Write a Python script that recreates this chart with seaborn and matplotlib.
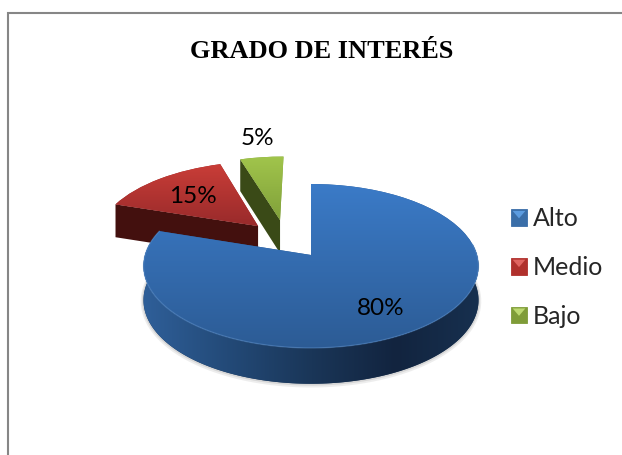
import matplotlib

matplotlib.use("Agg")
import numpy as np
import matplotlib.pyplot as plt
import seaborn as sns
from matplotlib.legend_handler import HandlerBase
from matplotlib.patches import Patch, Polygon, Rectangle
from matplotlib.transforms import Transform

# Chart data
categories = ["Alto", "Medio", "Bajo"]
values = [80, 15, 5]
percent_labels = ["80%", "15%", "5%"]
title = "GRADO DE INTERÉS"

# Exploded slices, in units of the pie radius
slice_offsets = [(0.0, 0.0), (-0.335, 0.378), (-0.198, 0.462)]
label_positions = [(381, 309), (193, 197), (257, 139)]

# Gradient stops for each slice
top_stops = [["#3b7bc8", "#2c5b94"], ["#cb3e38", "#96292a"], ["#a2c64c", "#80a03a"]]
legend_colors = [("#3a6ea8", "#5c9ce0"), ("#b0302c", "#e06460"), ("#7f9c38", "#bcd870")]
blue_wall_stops = ["#2f5f99", "#234a78", "#1a3658", "#12243f", "#17304f"]
red_wall = "#43100e"
green_wall = "#3a4a17"

# Perspective of the pie plane, fitted to the picture
CX, CY = 311, 256
RX, RY, TILT, DEPTH = 166, 80.5, 0.134, 34


def project(x, y, z=0.0):
    s = 1 + TILT * y
    return CX + RX * x / s, CY - RY * y / s + z * DEPTH / (1 + 0.05 * y)


class PiePlane(Transform):
    input_dims = 2
    output_dims = 2

    def transform_non_affine(self, values):
        xs, ys = project(values[:, 0], values[:, 1])
        return np.column_stack([xs, ys])


def gradient(ax, stops, extent, clip, horizontal=False, zorder=2):
    cmap = sns.blend_palette(stops, n_colors=256, as_cmap=True)
    ramp = np.linspace(0, 1, 256)
    ramp = ramp[None, :] if horizontal else ramp[:, None]
    im = ax.imshow(ramp, cmap=cmap, extent=extent, aspect="auto", zorder=zorder)
    im.set_clip_path(clip)
    return im


def arc(wedge, t1, t2, z=0.0, n=160):
    cx, cy = wedge.center
    t = np.radians(np.linspace(t1, t2, n))
    return np.column_stack(project(cx + np.cos(t), cy + np.sin(t), z))


class BevelHandler(HandlerBase):
    def __init__(self, base, light):
        super().__init__()
        self.base, self.light = base, light

    def create_artists(self, legend, orig, x0, y0, w, h, fontsize, trans):
        square = Rectangle((x0, y0), w, h, fc=self.base, ec=self.base, lw=0.6, transform=trans)
        tip = Polygon(
            [(x0 + 0.1 * w, y0 + 0.9 * h), (x0 + 0.9 * w, y0 + 0.9 * h), (x0 + 0.5 * w, y0 + 0.45 * h)],
            fc=self.light, ec="none", transform=trans,
        )
        return [square, tip]


sns.set_theme(style="white")
plt.rcParams["font.family"] = ["Lato", "DejaVu Sans"]

fig, ax = plt.subplots(figsize=(6.22, 4.56), dpi=100)
ax.set_position([0, 0, 1, 1])

wedges, _ = ax.pie(values, startangle=90, counterclock=False, colors=[s[1] for s in top_stops])
plane = PiePlane()
for wedge, off in zip(wedges, slice_offsets):
    wedge.set_center(off)
    wedge.set_transform(plane + ax.transData)
    wedge.set_linewidth(0)

blue, red, green = wedges

ax.set_aspect("auto")

# Green slice: radial wall, then top
gx, gy = green.center
t = np.radians(green.theta2)
green_side = [
    project(gx, gy),
    project(gx + np.cos(t), gy + np.sin(t)),
    project(gx + np.cos(t), gy + np.sin(t), 1),
    project(gx, gy, 1),
]
ax.add_patch(Polygon(green_side, fc=green_wall, ec="none", zorder=1.1))
green.set_zorder(1.2)
gradient(ax, top_stops[2], (233, 287, 222, 155), green, zorder=1.3)

# Red slice: radial wall, then top
rx, ry = red.center
t = np.radians(red.theta2)
red_side = [
    project(rx, ry),
    project(rx + np.cos(t), ry + np.sin(t)),
    project(rx + np.cos(t), ry + np.sin(t), 1),
    project(rx, ry, 1),
]
ax.add_patch(Polygon(red_side, fc=red_wall, ec="none", zorder=1.4))
red.set_zorder(1.5)
gradient(ax, top_stops[1], (108, 262, 230, 163), red, zorder=1.6)

# Blue slice: soft shadow, outer wall, top, rim light
bottom = arc(blue, blue.theta1, 8, 1)
ax.plot(bottom[:, 0], bottom[:, 1] + 1, color="#555555", lw=4, alpha=0.10, zorder=1.7)
ax.plot(bottom[:, 0], bottom[:, 1] + 0.5, color="#555555", lw=2, alpha=0.15, zorder=1.7)
wall = Polygon(np.vstack([arc(blue, blue.theta1, 8), bottom[::-1]]), fc="#1a3658", ec="none", zorder=1.8)
ax.add_patch(wall)
gradient(ax, blue_wall_stops, (143, 480, 390, 220), wall, horizontal=True, zorder=1.9)
blue.set_zorder(2)
gradient(ax, top_stops[0], (140, 482, 352, 183), blue, zorder=2.1)
rim = arc(blue, blue.theta1, 8)
ax.plot(rim[:, 0], rim[:, 1], color="#6a9fdc", lw=1, alpha=0.35, zorder=2.2)

ax.set_xlim(0, 622)
ax.set_ylim(456, 0)
ax.set_xticks([])
ax.set_yticks([])

# Chart area border: only left and top show in the picture
ax.plot([8, 8, 622], [456, 13.5, 13.5], color="#868686", lw=1.5, zorder=1, solid_joinstyle="miter")

for label, (lx, ly) in zip(percent_labels, label_positions):
    ax.text(lx, ly, label, fontsize=17.5, color="black", ha="center", va="center", zorder=3)

ax.text(322, 52, title, fontsize=19, fontweight="bold", family=["Liberation Serif"],
        color="black", ha="center", va="center", zorder=3)

handles = [Patch(label=c) for c in categories]
ax.legend(
    handles=handles,
    loc="center left",
    bbox_to_anchor=(511, 267.5),
    bbox_transform=ax.transData,
    frameon=False,
    fontsize=18,
    handlelength=0.64,
    handleheight=0.64,
    handletextpad=0.24,
    labelspacing=1.03,
    borderpad=0,
    borderaxespad=0,
    handler_map={h: BevelHandler(*c) for h, c in zip(handles, legend_colors)},
)

fig.savefig("out.png", dpi=100)
plt.close(fig)
